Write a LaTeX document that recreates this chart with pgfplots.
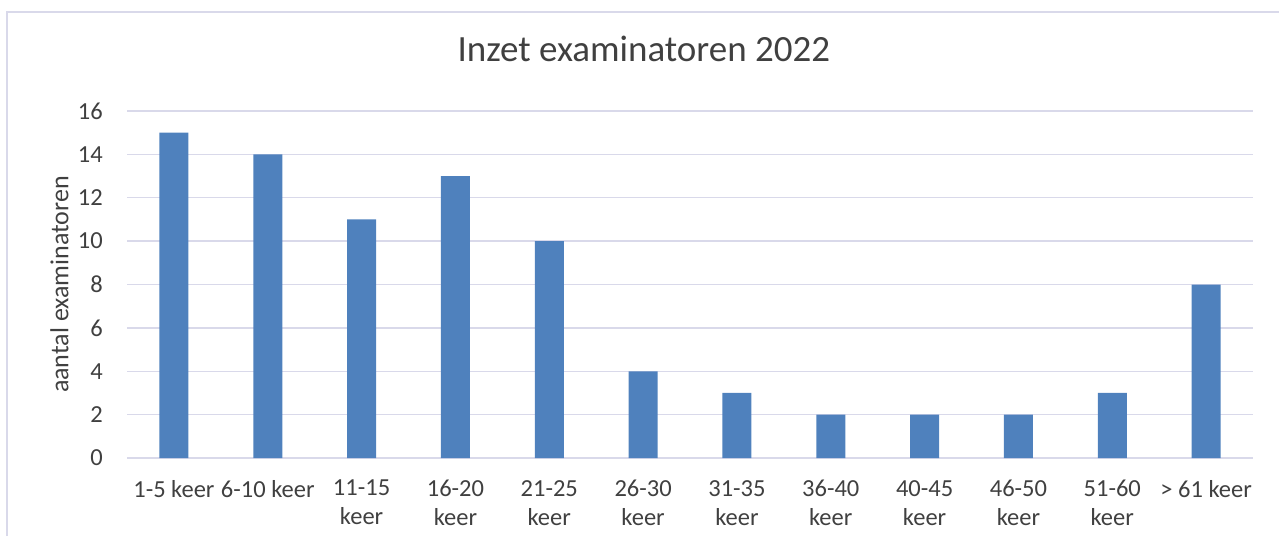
\documentclass[border=0pt]{standalone}
\usepackage{pgfplots}
\pgfplotsset{compat=1.18}
\usepackage{fontspec}
\setmainfont{Carlito}
\definecolor{barc}{HTML}{4F81BD}
\definecolor{gridc}{HTML}{D9D9EA}
\definecolor{txt}{HTML}{404040}
\begin{document}
\begin{tikzpicture}[x=1pt,y=1pt]
\path[use as bounding box] (0,0) rectangle (1279,536);
\draw[gridc, line width=1.5pt] (7,0) -- (7,524) -- (1279,524);
\begin{axis}[
  at={(127pt,78pt)}, anchor=south west,
  scale only axis, width=1126pt, height=347pt,
  xmin=-0.5, xmax=11.5, ymin=0, ymax=16,
  ytick={0,2,...,16},
  xtick={0,...,11},
  xticklabels={1-5 keer,6-10 keer,11-15\\keer,16-20\\keer,21-25\\keer,26-30\\keer,31-35\\keer,36-40\\keer,40-45\\keer,46-50\\keer,51-60\\keer,> 61 keer},
  axis line style={draw=none},
  tick style={draw=none},
  major tick length=0pt,
  ymajorgrids, xmajorgrids=false,
  grid style={draw=gridc, line width=1.3pt},
  ybar, bar width=29pt,
  ticklabel style={font=\fontsize{24.5}{29}\selectfont, text=txt},
  xticklabel style={anchor=north, inner sep=0pt, yshift=-22pt, align=center},
  yticklabel style={anchor=east, inner sep=0pt, xshift=-24pt},
  /pgf/number format/assume math mode=true,
  ylabel={aantal examinatoren},
  ylabel style={at={(axis description cs:-0.06,0.5)}, anchor=center, rotate=0, font=\fontsize{26}{28}\selectfont, text=txt},
  title={Inzet examinatoren 2022},
  title style={at={(axis description cs:0.459,1)}, anchor=center, yshift=56pt, font=\fontsize{37}{40}\selectfont, text=txt},
  clip=false,
]
\addplot[fill=barc, draw=none] coordinates {(0,15) (1,14) (2,11) (3,13) (4,10) (5,4) (6,3) (7,2) (8,2) (9,2) (10,3) (11,8)};
\end{axis}
\end{tikzpicture}
\end{document}
